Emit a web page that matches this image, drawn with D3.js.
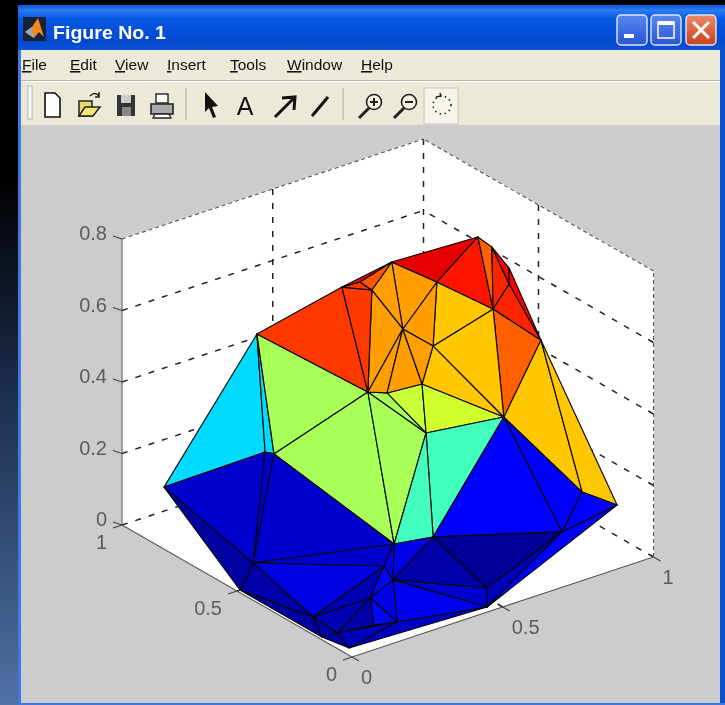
<!DOCTYPE html>
<html>
<head>
<meta charset="utf-8">
<title>Figure No. 1</title>
<script src="https://d3js.org/d3.v7.min.js"></script>
<style>
  html, body { margin: 0; padding: 0; background: #000; }
  svg { display: block; filter: blur(0.4px); }
  text { font-family: "Liberation Sans", Arial, sans-serif; }
</style>
</head>
<body>
<script>
// mesh vertices in data space
const vertexNames = ["A","B","B2","C","D","E","F","G","H1","H2","I","J","K","L","M","N","O","P","Q","R",
                     "S","T","U","V","W","X","Y","a","b","c","d","e","f","g","h","i","j","k","l","m"];
const vertexX = [0.263,0.522,0.539,0.574,0.640,0.821,0.740,0.879,0.943,0.911,0.851,0.969,0.588,0.655,0.454,0.491,0.597,0.766,0.518,0.931,
                 0.983,0.821,0.453,0.319,0.057,0.306,0.318,0.084,0.335,0.303,0.510,0.467,0.215,0.210,0.051,0.027,0.010,0.010,0.043,0.150];
const vertexY = [0.758,0.728,0.672,0.666,0.666,0.529,0.601,0.544,0.553,0.511,0.502,0.449,0.550,0.506,0.526,0.491,0.478,0.344,0.357,0.220,
                 0.136,0.163,0.241,0.235,0.892,0.779,0.756,0.540,0.300,0.219,0.082,0.025,0.203,0.079,0.237,0.048,0.500,0.144,0.122,0.101];
const vertexZ = [0.55,0.62,0.65,0.62,0.68,0.75,0.62,0.70,0.62,0.60,0.55,0.45,0.55,0.50,0.42,0.42,0.42,0.33,0.35,0.12,
                 0.10,0.06,0.12,0.14,0.13,0.20,0.20,0.04,0.05,0.05,0.02,0.00,0.03,0.01,0.01,0.00,0.00,0.00,0.01,0.01];

// triangles and their colour value (fraction of the jet map)
const faces = ["W A X","A X Y","A Y M","Y M V","M Q V","M N Q","N O Q","O Q P","O L P","Q P U","Q U V","P U T","P R T",
               "P R J","R J S","P I J","I L P","F L I","F K L","D K F","C D K","C K M","M K N","N K O","K L O",
               "A B M","B C M","B B2 C","B2 D C","B B2 D","D E F","E F I","E G I","G I H2","I H2 J","G H1 H2","H1 J H2",
               "W X a","X Y a","Y V a","a V b","V b c","V U c","U c d","U T d","T d e","T S e","S R T","c d e","c e g",
               "b c f","c f g","f g m","f m l","l m g","f h l","b f h","a b h","a j h","W a j","j h k","h l k","k l i","l g i","g e i"];
const faceValues = [0.34,0.34,0.54,0.54,0.54,0.54,0.57,0.58,0.68,0.44,0.44,0.125,0.125,
                    0.68,0.68,0.78,0.68,0.68,0.72,0.72,0.72,0.72,0.72,0.72,0.72,
                    0.82,0.82,0.82,0.79,0.90,0.90,0.855,0.78,0.84,0.84,0.88,0.88,
                    0.07,0.07,0.07,0.07,0.10,0.10,0.03,0.01,0.05,0.125,0.125,0.07,0.11,
                    0.13,0.10,0.13,0.03,0.05,0.04,0.04,0.09,0.03,0.02,0.02,0.03,0.03,0.05,0.06];

const xTicks = [0, 0.5, 1];
const yTicks = [0, 0.5, 1];
const zTicks = [0, 0.2, 0.4, 0.6, 0.8];
const menuItems = ["File","Edit","View","Insert","Tools","Window","Help"];
const menuLeft = [22,70,115,167,230,287,361];

const width = 725, height = 705;

const svg = d3.select("body").append("svg")
  .attr("width", width).attr("height", height);

// --- window chrome ---
const defs = svg.append("defs");
function gradient(id, stops) {
  const g = defs.append("linearGradient").attr("id", id).attr("x1",0).attr("x2",0).attr("y1",0).attr("y2",1);
  stops.forEach(s => g.append("stop").attr("offset", s[0]).attr("stop-color", s[1]));
}
gradient("desk", [[0,"#000"],[0.25,"#000"],[0.55,"#1c2c4c"],[1,"#4f71a3"]]);
gradient("titlebar", [[0,"#0a58dc"],[0.12,"#2a7cf0"],[0.3,"#0758e2"],[0.8,"#0348cf"],[1,"#0a52d8"]]);
gradient("btnBlue", [[0,"#5a88ee"],[1,"#2a55d0"]]);
gradient("btnRed", [[0,"#ee8a68"],[1,"#c8401c"]]);

svg.append("rect").attr("width", width).attr("height", height).attr("fill", "#000");
svg.append("rect").attr("width", 18).attr("height", height).attr("fill", "url(#desk)");
svg.append("rect").attr("x", 18).attr("y", 5).attr("width", width - 18).attr("height", height - 5).attr("fill", "#0b4fd0");
svg.append("rect").attr("x", 18).attr("y", 50).attr("width", 3).attr("height", height - 50).attr("fill", "#3f78e2");
svg.append("rect").attr("x", 18).attr("y", 703).attr("width", width - 18).attr("height", 2).attr("fill", "#3f78e2");
svg.append("rect").attr("x", 18).attr("y", 5).attr("width", width - 18).attr("height", 45).attr("fill", "url(#titlebar)");
svg.append("rect").attr("x", 21).attr("y", 50).attr("width", 699).attr("height", 75).attr("fill", "#ece9d8");
svg.append("line").attr("x1", 21).attr("x2", 720).attr("y1", 80.5).attr("y2", 80.5).attr("stroke", "#b8b5a5");
svg.append("line").attr("x1", 21).attr("x2", 720).attr("y1", 81.5).attr("y2", 81.5).attr("stroke", "#fff");
svg.append("rect").attr("x", 21).attr("y", 125).attr("width", 699).attr("height", 578).attr("fill", "#cccccc");

// title bar
const logo = svg.append("g").attr("transform", "translate(23,17)");
logo.append("rect").attr("width", 23).attr("height", 24).attr("fill", "#1a2238");
logo.append("path").attr("d", "M2,15 L9,10 L15,1 L21,20 L16,15 L11,21 Z").attr("fill", "#f08a18");
logo.append("path").attr("d", "M2,15 L9,10 L11,21 Z").attr("fill", "#a0a8b8");
svg.append("text").attr("x", 53).attr("y", 39).attr("fill", "#fff")
  .attr("font-size", 18).attr("font-weight", "bold").attr("textLength", 113).attr("lengthAdjust", "spacingAndGlyphs")
  .text("Figure No. 1");

[[617,"url(#btnBlue)"],[651,"url(#btnBlue)"],[686,"url(#btnRed)"]].forEach(b => {
  svg.append("rect").attr("x", b[0]).attr("y", 15).attr("width", 30).attr("height", 30).attr("rx", 4)
    .attr("fill", b[1]).attr("stroke", "#dfe8fa").attr("stroke-width", 1.4);
});
svg.append("rect").attr("x", 624).attr("y", 34).attr("width", 10).attr("height", 4).attr("fill", "#fff");
svg.append("rect").attr("x", 658).attr("y", 22).attr("width", 16).attr("height", 16).attr("fill", "none").attr("stroke", "#fff").attr("stroke-width", 1.5);
svg.append("rect").attr("x", 658).attr("y", 21).attr("width", 16).attr("height", 4).attr("fill", "#fff");
svg.append("path").attr("d", "M693,22 L709,38 M709,22 L693,38").attr("stroke", "#fff").attr("stroke-width", 3);

// menu bar
const menus = svg.append("g").selectAll("text").data(menuItems).join("text")
  .attr("x", (d, i) => menuLeft[i]).attr("y", 70)
  .attr("font-size", 15.5).attr("fill", "#111");
menus.append("tspan").attr("text-decoration", "underline").text(d => d[0]);
menus.append("tspan").text(d => d.slice(1));

// toolbar
const bar = svg.append("g");
bar.append("rect").attr("x", 28).attr("y", 86).attr("width", 4).attr("height", 33).attr("fill", "#fff").attr("stroke", "#a8a594").attr("stroke-width", 0.8);
[186, 343].forEach(x => bar.append("line").attr("x1", x).attr("x2", x).attr("y1", 88).attr("y2", 120).attr("stroke", "#a8a594"));
bar.append("path").attr("d", "M45,93 L55,93 L60,98 L60,117 L45,117 Z").attr("fill", "#fff").attr("stroke", "#111").attr("stroke-width", 1.6);
bar.append("path").attr("d", "M79,116 L79,101 L92,101 L92,116 Z").attr("fill", "#e8d870").attr("stroke", "#222").attr("stroke-width", 1.5);
bar.append("path").attr("d", "M79,116 L85,107 L100,107 L93,116 Z").attr("fill", "#f4e47c").attr("stroke", "#222").attr("stroke-width", 1.5);
bar.append("path").attr("d", "M90,96 Q95,91 99,96 M99,92 L99,97 L95,97").attr("fill", "none").attr("stroke", "#222").attr("stroke-width", 1.5);
bar.append("rect").attr("x", 117).attr("y", 95).attr("width", 18).attr("height", 21).attr("fill", "#333");
bar.append("rect").attr("x", 121).attr("y", 95).attr("width", 10).attr("height", 8).attr("fill", "#ccc");
bar.append("rect").attr("x", 122).attr("y", 107).attr("width", 9).attr("height", 9).attr("fill", "#888");
bar.append("rect").attr("x", 156).attr("y", 94).attr("width", 12).attr("height", 9).attr("fill", "#fff").attr("stroke", "#222").attr("stroke-width", 1.4);
bar.append("path").attr("d", "M151,104 L173,104 L173,114 L151,114 Z").attr("fill", "#aaa").attr("stroke", "#222").attr("stroke-width", 1.6);
bar.append("path").attr("d", "M155,114 L169,114 L171,118 L153,118 Z").attr("fill", "#fff").attr("stroke", "#222").attr("stroke-width", 1.3);
bar.append("path").attr("d", "M205,92 L205,112 L209,108 L213,118 L216,117 L212,107 L218,106 Z").attr("fill", "#111");
bar.append("text").attr("x", 245).attr("y", 115).attr("text-anchor", "middle").attr("font-size", 25).attr("fill", "#111").text("A");
bar.append("path").attr("d", "M275,117 L293,99 M282,98 L295,97 L294,110").attr("fill", "none").attr("stroke", "#111").attr("stroke-width", 3);
bar.append("path").attr("d", "M312,116 L328,97").attr("stroke", "#111").attr("stroke-width", 3);
[[374,true],[409,false]].forEach(z => {
  bar.append("circle").attr("cx", z[0]).attr("cy", 102).attr("r", 7.5).attr("fill", "#f4f2e6").attr("stroke", "#222").attr("stroke-width", 1.6);
  bar.append("path").attr("d", `M${z[0]-5},108 L${z[0]-15},118`).attr("stroke", "#222").attr("stroke-width", 3);
  bar.append("path").attr("d", `M${z[0]-4},102 L${z[0]+4},102` + (z[1] ? `M${z[0]},98 L${z[0]},106` : "")).attr("stroke", "#222").attr("stroke-width", 2);
});
bar.append("rect").attr("x", 424).attr("y", 88).attr("width", 34).attr("height", 36).attr("fill", "#f6f4ec").attr("stroke", "#c8c5b4");
bar.append("circle").attr("cx", 442).attr("cy", 105).attr("r", 9).attr("fill", "none").attr("stroke", "#222").attr("stroke-width", 1.5).attr("stroke-dasharray", "1.5,3.5");
bar.append("path").attr("d", "M436,97 L441,96 L440,93").attr("fill", "none").attr("stroke", "#222").attr("stroke-width", 1.5);

// --- projected axes: the view is a plain linear projection of the unit box ---
const originX = 352, originY = 657;
const xToH = d3.scaleLinear().domain([0, 1]).range([0, 301.5]);
const xToV = d3.scaleLinear().domain([0, 1]).range([0, -100]);
const yToH = d3.scaleLinear().domain([0, 1]).range([0, -230]);
const yToV = d3.scaleLinear().domain([0, 1]).range([0, -132]);
const zToV = d3.scaleLinear().domain([0, 1]).range([0, -357.5]);

function project(x, y, z) {
  return [originX + xToH(x) + yToH(y), originY + xToV(x) + yToV(y) + zToV(z)];
}

const jet = d3.scaleLinear()
  .domain([0, 0.125, 0.375, 0.625, 0.875, 1])
  .range(["#00008f", "#0000ff", "#00ffff", "#ffff00", "#ff0000", "#800000"]);

const zTop = 0.8;
const line = d3.line();
const plot = svg.append("g");

// back walls and floor
[[[0,0,0],[1,0,0],[1,1,0],[0,1,0]],
 [[0,1,0],[1,1,0],[1,1,zTop],[0,1,zTop]],
 [[1,0,0],[1,1,0],[1,1,zTop],[1,0,zTop]]].forEach(p => {
  plot.append("path").attr("d", line(p.map(c => project(...c))) + "Z").attr("fill", "#fff").attr("stroke", "#fff");
});

function seg(a, b, cls) {
  const s = plot.append("path").attr("d", line([project(...a), project(...b)])).attr("fill", "none");
  if (cls === "grid") s.attr("stroke", "#222").attr("stroke-width", 1.5).attr("stroke-dasharray", "6,8");
  if (cls === "edge") s.attr("stroke", "#555").attr("stroke-width", 1.1).attr("stroke-dasharray", "4,3");
  if (cls === "axis") s.attr("stroke", "#555").attr("stroke-width", 1.1);
  return s;
}

// grid lines on the floor
xTicks.forEach(t => { if (t > 0) seg([t,0,0], [t,1,0], "grid"); });
yTicks.forEach(t => { if (t > 0) seg([0,t,0], [1,t,0], "grid"); });
// grid lines on the walls
zTicks.forEach(t => {
  if (t === 0) return;
  if (t < zTop) { seg([0,1,t], [1,1,t], "grid"); seg([1,0,t], [1,1,t], "grid"); }
});
xTicks.forEach(t => { if (t > 0 && t < 1) seg([t,1,0], [t,1,zTop], "grid"); });
yTicks.forEach(t => { if (t > 0 && t < 1) seg([1,t,0], [1,t,zTop], "grid"); });
seg([1,1,0], [1,1,zTop], "grid");
// box outline
seg([0,1,zTop], [1,1,zTop], "edge");
seg([1,0,zTop], [1,1,zTop], "edge");
seg([1,0,0], [1,0,zTop], "edge");

// visible axes
seg([0,0,0], [1,0,0], "axis");
seg([0,0,0], [0,1,0], "axis");
seg([0,1,0], [0,1,zTop], "axis");

// surface
const vertexIndex = new Map(vertexNames.map((n, i) => [n, i]));
plot.append("g").selectAll("path").data(faces).join("path")
  .attr("d", d => line(d.split(" ").map(n => {
    const i = vertexIndex.get(n);
    return project(vertexX[i], vertexY[i], vertexZ[i]);
  })) + "Z")
  .attr("fill", (d, i) => jet(faceValues[i]))
  .attr("stroke", "#080808")
  .attr("stroke-width", 1.15)
  .attr("stroke-linejoin", "round");

// ticks and labels
function tick(p, dx, dy) {
  plot.append("path").attr("d", line([p, [p[0] + dx, p[1] + dy]])).attr("stroke", "#444").attr("stroke-width", 1.1);
}
function label(p, dx, dy, anchor, t) {
  plot.append("text").attr("x", p[0] + dx).attr("y", p[1] + dy).attr("dy", "0.35em")
    .attr("text-anchor", anchor).attr("font-size", 20).attr("fill", "#5c5c5c").text(t);
}
zTicks.forEach(t => {
  const p = project(0, 1, t);
  tick(p, -9, -3);
  label(p, -15, -6, "end", String(t));
});
yTicks.forEach(t => {
  const p = project(0, t, 0);
  tick(p, -9, 3);
  label(p, -15, 17, "end", String(t));
});
xTicks.forEach(t => {
  const p = project(t, 0, 0);
  tick(p, 7, 4);
  label(p, 9, 20, "start", String(t));
});
</script>
</body>
</html>
